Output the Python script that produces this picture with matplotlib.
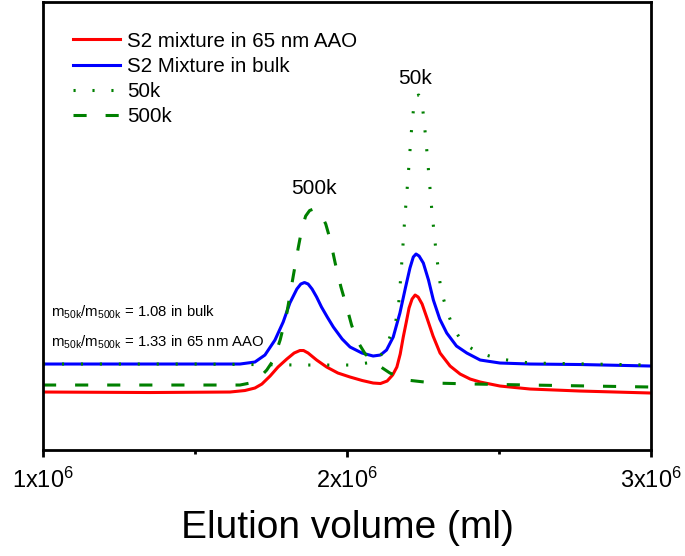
import matplotlib
matplotlib.use('Agg')
import matplotlib.pyplot as plt

plt.rcParams['font.family'] = ['Liberation Sans', 'DejaVu Sans']
plt.rcParams['mathtext.fontset'] = 'custom'
plt.rcParams['mathtext.rm'] = 'Liberation Sans'

# elution volume (ml) and detector signal (arb. units)
red_x = [1.000e6, 1.352e6, 1.615e6, 1.664e6, 1.697e6, 1.720e6, 1.747e6, 1.773e6, 1.802e6,
         1.826e6, 1.845e6, 1.857e6, 1.872e6, 1.900e6, 1.933e6, 1.970e6, 2.010e6, 2.050e6,
         2.086e6, 2.110e6, 2.132e6, 2.150e6, 2.164e6, 2.175e6, 2.185e6, 2.195e6, 2.204e6,
         2.214e6, 2.224e6, 2.234e6, 2.247e6, 2.263e6, 2.283e6, 2.306e6, 2.339e6, 2.372e6,
         2.405e6, 2.438e6, 2.503e6, 2.602e6, 2.766e6, 3.000e6]
red_y = [58, 57.5, 58, 59.5, 62, 66, 74, 83, 91, 97, 99.5, 99.5, 97, 90, 83, 77, 73, 69.5,
         67, 66.5, 69, 75, 83, 96, 113, 128, 142, 151, 155, 153, 146, 132, 114, 97, 84, 76,
         71, 68, 64, 61, 59, 57]

blue_x = [1.000e6, 1.352e6, 1.648e6, 1.697e6, 1.730e6, 1.763e6, 1.790e6, 1.812e6, 1.835e6,
          1.848e6, 1.860e6, 1.872e6, 1.885e6, 1.900e6, 1.916e6, 1.935e6, 1.955e6, 1.984e6,
          2.010e6, 2.049e6, 2.086e6, 2.110e6, 2.130e6, 2.152e6, 2.174e6, 2.192e6, 2.207e6,
          2.218e6, 2.227e6, 2.237e6, 2.251e6, 2.268e6, 2.284e6, 2.305e6, 2.328e6, 2.360e6,
          2.394e6, 2.438e6, 2.503e6, 2.602e6, 2.766e6, 3.000e6]
blue_y = [86, 86, 86, 88, 95, 110, 128, 147, 161, 166, 167.5, 166, 161, 153, 143, 133, 123,
          111, 103, 97, 94, 95, 100, 113, 137, 162, 182, 193, 196, 194, 187, 170, 150, 131,
          117, 104, 97, 90, 87, 86, 85.5, 84]

k50_x = [1.000e6, 1.516e6, 1.845e6, 2.010e6, 2.092e6, 2.125e6, 2.141e6, 2.158e6, 2.169e6,
         2.176e6, 2.183e6, 2.190e6, 2.197e6, 2.204e6, 2.211e6, 2.219e6, 2.227e6, 2.236e6,
         2.246e6, 2.259e6, 2.269e6, 2.280e6, 2.293e6, 2.309e6, 2.326e6, 2.348e6, 2.381e6,
         2.434e6, 2.503e6, 2.602e6, 3.000e6]
k50_y = [86, 86, 85, 85, 88, 100, 113, 125, 143, 170, 200, 232, 258, 286, 316, 342, 354, 355,
         350, 312, 276, 236, 198, 160, 142, 123, 107, 97, 91, 87, 85]

k500_x = [1.000e6, 1.516e6, 1.648e6, 1.681e6, 1.714e6, 1.736e6, 1.758e6, 1.780e6, 1.802e6,
          1.822e6, 1.840e6, 1.852e6, 1.864e6, 1.877e6, 1.890e6, 1.903e6, 1.916e6, 1.930e6,
          1.945e6, 1.961e6, 1.980e6, 1.999e6, 2.015e6, 2.032e6, 2.060e6, 2.087e6, 2.141e6,
          2.196e6, 2.284e6, 2.416e6, 2.600e6, 3.000e6]
k500_y = [65, 65, 65, 67, 73, 80, 90, 110, 137, 172, 203, 222, 234, 239.5, 241, 239.5, 235,
          226, 210, 187, 163, 143, 125, 110, 96, 88, 77, 70, 67, 66, 65, 63]

labels = ['S2 mixture in 65 nm AAO', 'S2 Mixture in bulk', '50k', '500k']
ratio_text = [r'$\mathregular{m_{50k}/m_{500k}}$ = 1.08 in bulk',
              r'$\mathregular{m_{50k}/m_{500k}}$ = 1.33 in 65 nm AAO']
tick_pos = [1e6, 2e6, 3e6]
tick_labels = [r'$\mathregular{1x10^{6}}$', r'$\mathregular{2x10^{6}}$', r'$\mathregular{3x10^{6}}$']

fig = plt.figure(figsize=(6.85, 5.56), dpi=100)
ax = fig.add_axes([0.0628, 0.1906, 0.8876, 0.8058])

green = '#008000'
ax.plot(red_x, red_y, color='#FF0000', lw=2.2, label=labels[0])
ax.plot(blue_x, blue_y, color='#0000FF', lw=2.2, label=labels[1])
ax.plot(k50_x, k50_y, color=green, lw=2.2, linestyle=(0, (0.7, 5.5)), label=labels[2])
ax.plot(k500_x, k500_y, color=green, lw=2.2, linestyle=(0, (4.3, 6.2)), label=labels[3])

ax.text(1.891e6, 262, '500k', fontsize=15, ha='center', va='center')
ax.text(2.224e6, 372, '50k', fontsize=15, ha='center', va='center')
ax.text(1.026e6, 133, ratio_text[0], fontsize=10.7, ha='left', va='baseline')
ax.text(1.026e6, 103, ratio_text[1], fontsize=10.7, ha='left', va='baseline')

ax.set_xlim(1e6, 3e6)
ax.set_ylim(0, 448)
ax.set_xticks(tick_pos)
ax.set_xticklabels(tick_labels)
ax.set_xticks([1.5e6, 2.5e6], minor=True)
ax.tick_params(axis='x', which='major', direction='out', length=5, width=2, labelsize=17, pad=8)
ax.tick_params(axis='x', which='minor', direction='out', length=3, width=2)
ax.tick_params(axis='y', left=False, labelleft=False)
for s in ax.spines.values():
    s.set_linewidth(2)

ax.set_xlabel('Elution volume (ml)', fontsize=28, labelpad=12)

ax.legend(loc='upper left', bbox_to_anchor=(0.049, 0.934), frameon=False, fontsize=14.8,
          borderpad=0, borderaxespad=0, handlelength=2.3, handletextpad=0.35, labelspacing=0.3)

plt.savefig('out.png', dpi=100)
plt.close()
